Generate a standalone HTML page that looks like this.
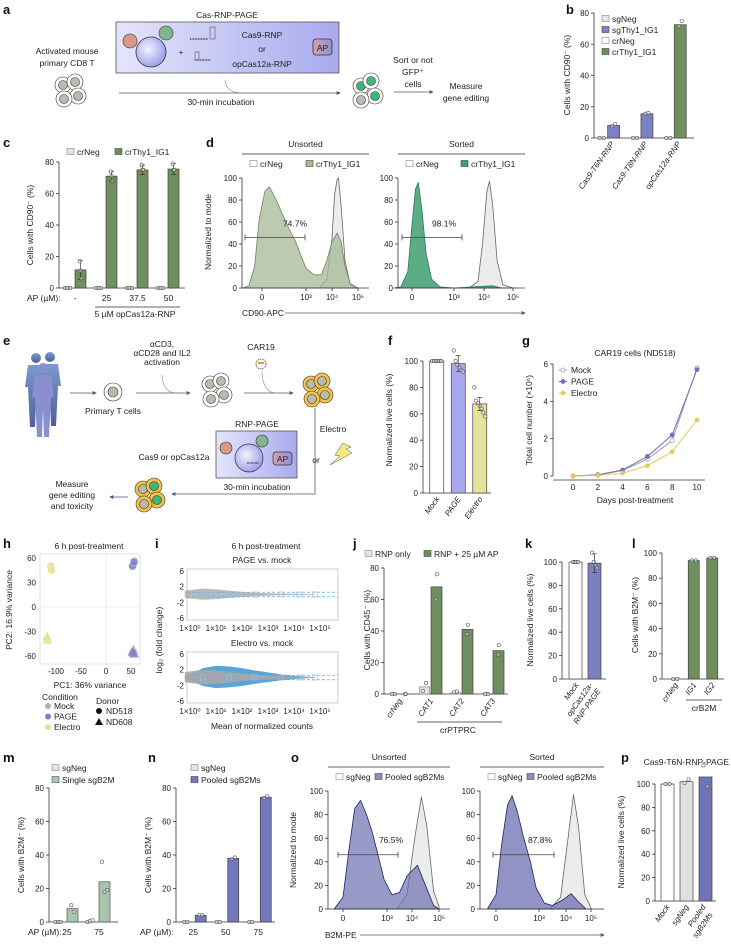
<!DOCTYPE html>
<html><head><meta charset="utf-8">
<style>
html,body{margin:0;padding:0;background:#fff;}
svg{display:block;font-family:"Liberation Sans",sans-serif;}
.pl{font-size:13px;font-weight:bold;fill:#111;}
.t{font-size:8.5px;fill:#222;}
.tk{font-size:8px;fill:#222;}
</style></head>
<body>
<svg id="fig" width="731" height="945" viewBox="0 0 731 945" xmlns="http://www.w3.org/2000/svg">
<defs>
<marker id="arr" viewBox="0 0 6 6" refX="5" refY="3" markerWidth="5" markerHeight="5" orient="auto"><path d="M0,0 L6,3 L0,6 z" fill="#4a5a78"/></marker>
<linearGradient id="boxg" x1="0" y1="0" x2="1" y2="0"><stop offset="0" stop-color="#e4e4fb"/><stop offset="1" stop-color="#a9aaee"/></linearGradient>
<radialGradient id="bigc" cx="0.4" cy="0.4" r="0.6"><stop offset="0" stop-color="#f2f2ff"/><stop offset="1" stop-color="#9fa2ea"/></radialGradient>
<linearGradient id="apg" x1="0" y1="0" x2="1" y2="0"><stop offset="0" stop-color="#d9a0a8"/><stop offset="1" stop-color="#8f90d8"/></linearGradient>
<linearGradient id="ppl" x1="0" y1="0" x2="0" y2="1"><stop offset="0" stop-color="#6b8fc9"/><stop offset="1" stop-color="#3d4f8f"/></linearGradient>
</defs>

<text class="pl" x="3" y="14">a</text>
<text class="pl" x="566" y="14">b</text>
<text class="pl" x="3" y="147">c</text>
<text class="pl" x="206" y="147">d</text>
<text class="pl" x="3" y="345">e</text>
<text class="pl" x="388" y="345">f</text>
<text class="pl" x="522" y="345">g</text>
<text class="pl" x="3" y="548">h</text>
<text class="pl" x="155" y="548">i</text>
<text class="pl" x="353" y="548">j</text>
<text class="pl" x="525" y="548">k</text>
<text class="pl" x="632" y="548">l</text>
<text class="pl" x="3" y="762">m</text>
<text class="pl" x="148" y="762">n</text>
<text class="pl" x="291" y="762">o</text>
<text class="pl" x="621" y="762">p</text>

<g>
<text class="t" x="227" y="18" text-anchor="middle" font-size="9">Cas-RNP-PAGE</text>
<rect x="116" y="22" width="223" height="51" fill="url(#boxg)" stroke="#555" stroke-width="0.8"/>
<circle cx="151" cy="52" r="15" fill="url(#bigc)" stroke="#333" stroke-width="0.8"/>
<circle cx="130" cy="41" r="7" fill="#d99a86" stroke="#333" stroke-width="0.6"/>
<circle cx="166" cy="33" r="7" fill="#7fb593" stroke="#333" stroke-width="0.6"/>
<text class="t" x="181" y="55" text-anchor="middle">+</text>
<path d="M190,39 h18 M195,60 h16" stroke="#333" stroke-width="1.2" stroke-dasharray="1 0.6"/>
<rect x="210" y="27" width="5" height="12" fill="none" stroke="#555" stroke-width="0.6"/>
<rect x="195" y="52" width="4" height="8" fill="none" stroke="#555" stroke-width="0.6"/>
<text class="t" x="262" y="38" text-anchor="middle" font-size="9">Cas9-RNP</text>
<text class="t" x="262" y="52" text-anchor="middle" font-size="9">or</text>
<text class="t" x="262" y="67" text-anchor="middle" font-size="9">opCas12a-RNP</text>
<rect x="313" y="39" width="19" height="16" rx="3" fill="url(#apg)" stroke="#333" stroke-width="0.8"/>
<text class="t" x="322.5" y="51" text-anchor="middle" font-size="9">AP</text>
<text class="t" x="67" y="54" text-anchor="middle" font-size="9">Activated mouse</text>
<text class="t" x="67" y="66" text-anchor="middle" font-size="9">primary CD8 T</text>
<g stroke="#333" stroke-width="0.6">
<circle cx="63" cy="85" r="8" fill="#fff"/><circle cx="63" cy="85" r="4.5" fill="#b7bcae"/>
<circle cx="75" cy="82" r="8" fill="#fff"/><circle cx="75" cy="82" r="4.5" fill="#b7bcae"/>
<circle cx="78" cy="96" r="8" fill="#fff"/><circle cx="78" cy="96" r="4.5" fill="#b7bcae"/>
<circle cx="64" cy="99" r="8" fill="#fff"/><circle cx="64" cy="99" r="4.5" fill="#b7bcae"/>
<circle cx="361" cy="86" r="8" fill="#fff"/><circle cx="361" cy="86" r="4.5" fill="#3cb878"/>
<circle cx="371" cy="81" r="8" fill="#fff"/><circle cx="371" cy="81" r="4.5" fill="#3cb878"/>
<circle cx="375" cy="96" r="8" fill="#fff"/><circle cx="375" cy="96" r="4.5" fill="#3cb878"/>
<circle cx="361" cy="100" r="8" fill="#fff"/><circle cx="361" cy="100" r="4.5" fill="#b7bcae"/>
</g>
<path d="M225,80 Q226,92 240,93" fill="none" stroke="#889" stroke-width="0.6"/>
<line x1="119" y1="93" x2="340" y2="93" stroke="#4a5a78" stroke-width="0.8" marker-end="url(#arr)"/>
<text class="t" x="221" y="105" text-anchor="middle" font-size="9">30-min incubation</text>
<line x1="394" y1="92" x2="433" y2="92" stroke="#4a5a78" stroke-width="0.8" marker-end="url(#arr)"/>
<text class="t" x="413" y="63" text-anchor="middle" font-size="9">Sort or not</text>
<text class="t" x="413" y="75" text-anchor="middle" font-size="9">GFP⁺</text>
<text class="t" x="413" y="87" text-anchor="middle" font-size="9">cells</text>
<text class="t" x="466" y="89" text-anchor="middle" font-size="9">Measure</text>
<text class="t" x="466" y="101" text-anchor="middle" font-size="9">gene editing</text>
</g>

<g>
<g fill="url(#ppl)" opacity="0.9">
<circle cx="36" cy="358" r="5"/><path d="M28,365 h16 l3,22 h-3 l-2,40 h-5 l-1,-30 l-1,30 h-5 l-2,-40 h-3 z"/>
<circle cx="50" cy="357" r="5"/><path d="M42,364 h16 l3,22 h-3 l-2,40 h-5 l-1,-30 l-1,30 h-5 l-2,-40 h-3 z"/>
</g>
<g fill="#8a8fd0"><circle cx="43" cy="368" r="5"/><path d="M35,375 h16 l3,22 h-3 l-2,40 h-5 l-1,-30 l-1,30 h-5 l-2,-40 h-3 z"/></g>
<line x1="70" y1="393" x2="96" y2="393" stroke="#4a5a78" stroke-width="0.8" marker-end="url(#arr)"/>
<g stroke="#333" stroke-width="0.6">
<circle cx="113" cy="392" r="9" fill="#fff"/><circle cx="113" cy="392" r="5" fill="#b7bcae"/>
</g>
<text class="t" x="113" y="414" text-anchor="middle" font-size="9">Primary T cells</text>
<text class="t" x="162" y="347" text-anchor="middle" font-size="9">αCD3,</text>
<text class="t" x="162" y="356" text-anchor="middle" font-size="9">αCD28 and IL2</text>
<text class="t" x="162" y="365" text-anchor="middle" font-size="9">activation</text>
<path d="M162,375 Q163,392 175,393" fill="none" stroke="#889" stroke-width="0.6"/>
<line x1="136" y1="393" x2="190" y2="393" stroke="#4a5a78" stroke-width="0.8" marker-end="url(#arr)"/>
<g stroke="#333" stroke-width="0.6">
<circle cx="210" cy="384" r="8" fill="#fff"/><circle cx="210" cy="384" r="4.5" fill="#b7bcae"/>
<circle cx="221" cy="381" r="8" fill="#fff"/><circle cx="221" cy="381" r="4.5" fill="#b7bcae"/>
<circle cx="224" cy="395" r="8" fill="#fff"/><circle cx="224" cy="395" r="4.5" fill="#b7bcae"/>
<circle cx="211" cy="399" r="8" fill="#fff"/><circle cx="211" cy="399" r="4.5" fill="#b7bcae"/>
</g>
<text class="t" x="261" y="350" text-anchor="middle" font-size="9">CAR19</text>
<circle cx="261" cy="364" r="5" fill="#fff" stroke="#333" stroke-width="0.8" stroke-dasharray="1.2 0.8"/>
<rect x="258" y="362" width="6" height="2" fill="#e0a030"/>
<path d="M262,372 Q263,392 275,393" fill="none" stroke="#889" stroke-width="0.6"/>
<line x1="244" y1="393" x2="293" y2="393" stroke="#4a5a78" stroke-width="0.8" marker-end="url(#arr)"/>
<g stroke="#333" stroke-width="0.6">
<circle cx="311" cy="384" r="8" fill="#f3c14a"/><circle cx="311" cy="384" r="4.5" fill="#b7bcae"/>
<circle cx="322" cy="381" r="8" fill="#f3c14a"/><circle cx="322" cy="381" r="4.5" fill="#b7bcae"/>
<circle cx="325" cy="395" r="8" fill="#f3c14a"/><circle cx="325" cy="395" r="4.5" fill="#b7bcae"/>
<circle cx="312" cy="399" r="8" fill="#f3c14a"/><circle cx="312" cy="399" r="4.5" fill="#b7bcae"/>
</g>
<text class="t" x="257" y="427" text-anchor="middle" font-size="9">RNP-PAGE</text>
<rect x="216" y="431" width="81" height="47" fill="url(#boxg)" stroke="#555" stroke-width="0.8"/>
<circle cx="249" cy="458" r="14" fill="url(#bigc)" stroke="#333" stroke-width="0.7"/>
<circle cx="226" cy="448" r="6" fill="#d99a86" stroke="#333" stroke-width="0.6"/>
<circle cx="262" cy="441" r="6" fill="#7fb593" stroke="#333" stroke-width="0.6"/>
<path d="M247,463 h12" stroke="#333" stroke-width="1.2" stroke-dasharray="0.8 0.5"/>
<rect x="273" y="452" width="19" height="13" rx="3" fill="url(#apg)" stroke="#333" stroke-width="0.7"/>
<text class="t" x="282.5" y="462" text-anchor="middle" font-size="8.5">AP</text>
<text class="t" x="174" y="460" text-anchor="middle" font-size="9">Cas9 or opCas12a</text>
<text class="t" x="257" y="490" text-anchor="middle" font-size="9">30-min incubation</text>
<text class="t" x="333" y="432" text-anchor="middle" font-size="9">Electro</text>
<text class="t" x="316" y="463" text-anchor="middle" font-size="9">or</text>
<path d="M343,443 l8,4 l-5,2 l6,4 l-22,12 l10,-9 l-5,-1 z" fill="#f4ea80" stroke="#555" stroke-width="0.5"/>
<polyline points="315,408 315,494 172,494" fill="none" stroke="#4a5a78" stroke-width="0.8" marker-end="url(#arr)"/>
<line x1="128" y1="497" x2="110" y2="497" stroke="#4a5a78" stroke-width="0.8" marker-end="url(#arr)"/>
<g stroke="#333" stroke-width="0.6">
<circle cx="143" cy="489" r="8" fill="#f3c14a"/><circle cx="143" cy="489" r="4.5" fill="#b7bcae"/>
<circle cx="154" cy="486" r="8" fill="#f3c14a"/><circle cx="154" cy="486" r="4.5" fill="#3cb878"/>
<circle cx="157" cy="500" r="8" fill="#f3c14a"/><circle cx="157" cy="500" r="4.5" fill="#3cb878"/>
<circle cx="144" cy="504" r="8" fill="#f3c14a"/><circle cx="144" cy="504" r="4.5" fill="#b7bcae"/>
</g>
<text class="t" x="72" y="487" text-anchor="middle" font-size="9">Measure</text>
<text class="t" x="72" y="498" text-anchor="middle" font-size="9">gene editing</text>
<text class="t" x="72" y="509" text-anchor="middle" font-size="9">and toxicity</text>
</g>
</svg>

<script>
const bCategories=['Cas9-T6N-RNP','Cas9-T8N-RNP','opCas12a-RNP'];
const bNegValues=[0,0,0];
const bThyValues=[8,15.5,72.5];
const bThyPoints=[[7.5,9],[15.5,16],[71.5,75]];
const bTicks=[0,20,40,60,80];

const cCategories=['-','25','37.5','50'];
const cNegValues=[0,0,0,0];
const cThyValues=[11.5,71,75,75.5];
const cThyErr=[6,3,3,3.5];
const cThyPoints=[[17,11,6],[74,71,68],[78,75,75],[79,75,75]];
const cTicks=[0,20,40,60,80];

const dTickVals=[0,3,4,5];
const dTickLabels=['0','10³','10⁴','10⁵'];
const dUnsNegX=[3.5,3.8,4.0,4.1,4.2,4.25,4.35,4.5,4.7,5.0];
const dUnsNegY=[0,8,45,85,99,100,75,25,3,0];
const dUnsThyX=[-1.3,-0.9,-0.5,-0.2,0.2,0.5,0.9,1.3,1.8,2.3,2.7,3.0,3.3,3.6,3.8,4.0,4.2,4.35,4.5,4.7,5.0];
const dUnsThyY=[0,2,20,62,88,92,82,70,55,42,28,18,12,12,25,42,50,42,20,4,0];
const dSorNegX=[3.5,3.8,3.95,4.1,4.19,4.3,4.45,4.65,5.0];
const dSorNegY=[0,6,40,88,97,75,25,3,0];
const dSorThyX=[-1.3,-0.8,-0.3,0,0.25,0.45,0.7,1.0,1.4,2.0,3.0,4.3,4.6];
const dSorThyY=[0,1,15,58,90,96,72,32,8,1,0,2,0];
const hTicks=[0,20,40,60,80,100];

const fCategories=['Mock','PAGE','Electro'];
const fValues=[100,98,67.5];
const fErr=[0,6,5];
const fPoints=[[100,100,100,100,100,100],[108,100,97,95,93,92],[80,70,68,66,64,61,58]];
const fTicks=[0,20,40,60,80,100];

const gDays=[0,2,4,6,8,10];
const gMock=[0,0.05,0.3,0.9,1.9,5.8];
const gPage=[0,0.07,0.32,1.05,2.2,5.7];
const gElectro=[0,0.03,0.15,0.55,1.3,3.0];
const gTicksY=[0,2,4,6];

const hPcaX=[57,55,53,56,-110,-109,55,53,56,-117,-118];
const hPcaY=[56,52,50,55,50,45,-52,-55,-57,-40,-36];
const hPcaCond=['Mock','Mock','PAGE','PAGE','Electro','Electro','Mock','PAGE','PAGE','Electro','Electro'];
const hPcaDonor=['ND518','ND518','ND518','ND518','ND518','ND518','ND608','ND608','ND608','ND608','ND608'];
const hTicksX=[-100,-50,0,50];
const hTicksY=[-60,-30,0,30,60];

const iLogX=[-0.2,0.5,1,1.5,2,2.5,3,3.5,4,4.5,4.8];
const iPageSpread=[1.0,1.5,1.3,1.0,0.7,0.45,0.3,0.22,0.18,0.12,0.08];
const iElectroGrey=[1.4,2.0,1.8,1.4,1.0,0.75,0.5,0.35,0.25,0.18,0.08];
const iElectroBlue=[0.2,2.4,3.0,2.8,2.4,1.8,1.3,0.8,0.45,0.22,0.08];
const iBinX=[0.5,1.5,2.5,3.5,4.2,4.8];
const iTicksY=[-6,-2,2,6];
const iTicksX=[0,1,2,3,4,5];

const jCategories=['crNeg','CAT1','CAT2','CAT3'];
const jRnpValues=[0,4.5,0.8,0.3];
const jApValues=[0,68,41,27.5];
const jRnpPoints=[[0,0],[2,7],[1,1.5],[0,0]];
const jApPoints=[[0,0],[60,76],[38,44],[25,31]];
const jTicks=[0,20,40,60,80];

const kCategories=['Mock','opCas12a-RNP-PAGE'];
const kValues=[100,99];
const kErr=[0,8];
const kPoints=[[100,100,100,100],[108,100,97,95]];
const kTicks=[0,20,40,60,80,100];

const lCategories=['crNeg','IG1','IG2'];
const lValues=[0,94,96];
const lPoints=[[0,0],[94,94],[96,96]];
const lTicks=[0,20,40,60,80,100];

const mCategories=['25','75'];
const mNegValues=[0,0];
const mB2MValues=[8,24];
const mNegPoints=[[0,0,0],[0,0.5,1]];
const mB2MPoints=[[10,6],[36,18,19]];
const mTicks=[0,20,40,60,80];

const nCategories=['25','50','75'];
const nNegValues=[0,0,0];
const nB2MValues=[4,38,74.5];
const nB2MPoints=[[4,4],[37.5,38.5],[74,75]];
const nTicks=[0,20,40,60,80];

const oUnsNegX=[3.4,3.8,4.1,4.35,4.55,4.8,5.0];
const oUnsNegY=[0,12,60,95,70,15,2];
const oUnsPoolX=[-0.6,0,0.4,0.8,1.2,1.6,2.0,2.4,2.8,3.2,3.5,3.8,4.2,4.5,4.8,5.0];
const oUnsPoolY=[0,10,50,85,92,80,65,45,25,12,14,28,37,20,3,0];
const oSorNegX=[3.4,3.8,4.05,4.3,4.5,4.75,5.0];
const oSorNegY=[0,10,55,97,70,12,1];
const oSorPoolX=[-0.6,0,0.4,0.8,1.12,1.5,1.9,2.4,2.8,3.2,3.5,3.9,4.2,4.5,4.8];
const oSorPoolY=[0,12,55,88,96,82,62,40,18,5,3,8,13,6,0];

const pCategories=['Mock','sgNeg','Pooled sgB2Ms'];
const pValues=[100,102,106];
const pPoints=[[100,100],[101,104],[116,98]];
const pTicks=[0,20,40,60,80,100];

const NS='http://www.w3.org/2000/svg';
const svg=document.getElementById('fig');
function mk(tag,attrs){const e=document.createElementNS(NS,tag);for(const k in attrs)e.setAttribute(k,attrs[k]);svg.appendChild(e);return e;}
function lin(v0,v1,p0,p1){return v=>p0+(v-v0)*(p1-p0)/(v1-v0);}
function pw(vals,px){return v=>{let i=0;if(v<=vals[0])i=0;else if(v>=vals[vals.length-1])i=vals.length-2;else{while(v>vals[i+1])i++;}return px[i]+(v-vals[i])*(px[i+1]-px[i])/(vals[i+1]-vals[i]);};}
function text(x,y,s,cls,anchor,name,extra){const t=mk('text',Object.assign({x:x,y:y,'class':cls,'text-anchor':anchor||'start'},extra||{}));t.textContent=s;


return t;}
function yAxis(x,ys,ticks,name){const l=mk('line',{x1:x,x2:x,y1:ys(ticks[0]),y2:ys(ticks[ticks.length-1]),stroke:'#333','stroke-width':0.8});


ticks.forEach(v=>{const tk=mk('line',{x1:x-3,x2:x,y1:ys(v),y2:ys(v),stroke:'#333','stroke-width':0.8});


text(x-5,ys(v)+3,String(v),'tk','end',name+'-tick-label');});}
function yTitle(x,y,s,name){const t=text(x,y,s,'t','middle',name,{transform:'rotate(-90 '+x+' '+y+')'});return t;}
function bar(cx,w,v,ys,fill,stroke,name){const r=mk('rect',{x:cx-w/2,y:ys(v),width:w,height:Math.max(0,ys(0)-ys(v)),fill:fill,stroke:stroke,'stroke-width':0.7});

}
function dot(cx,v,ys,name){const c=mk('circle',{cx:cx,cy:ys(v),r:1.7,fill:'#fff','fill-opacity':0.4,stroke:'#555','stroke-width':0.6});

}
function dots(cx,arr,ys,name,sp){const n=arr.length;arr.forEach((v,i)=>dot(cx+(i-(n-1)/2)*(sp||2.6),v,ys,name));}
function err(cx,v,e,ys,name){if(!e)return;const l=mk('path',{d:'M'+cx+','+ys(v-e)+'V'+ys(v+e)+'M'+(cx-2.5)+','+ys(v+e)+'h5M'+(cx-2.5)+','+ys(v-e)+'h5',stroke:'#333','stroke-width':0.7,fill:'none'});

}
function rotLabel(x,y,s,name){text(x,y,s,'tk','end',name,{transform:'rotate(-55 '+x+' '+y+')','font-style':'italic'});}
function legBox(x,y,fill,stroke,label,name){const r=mk('rect',{x:x,y:y-6.5,width:7,height:6,fill:fill,stroke:stroke,'stroke-width':0.6});


text(x+10,y,label,'t','start',name);}
function hline(x1,x2,y,name){const l=mk('line',{x1:x1,x2:x2,y1:y,y2:y,stroke:'#333','stroke-width':0.8});

}
function area(xs,ys,X,Y,fill,stroke,op,name){let d='M'+X(xs[0])+','+Y(0);xs.forEach((v,i)=>{d+='L'+X(v).toFixed(1)+','+Y(ys[i]).toFixed(1);});d+='L'+X(xs[xs.length-1])+','+Y(0)+'Z';
const p=mk('path',{d:d,fill:fill,'fill-opacity':op,stroke:stroke,'stroke-width':0.8,'stroke-linejoin':'round'});

}

const GREEN='#6f8f5f',NEGF='#e4e4e4',NEGS='#888',PUR='#7c81c3';

(function(){const ys=lin(0,80,138,13);yAxis(594,ys,bTicks,'b-y-axis');yTitle(570,75,'Cells with CD90⁻ (%)','b-y-axis-title');
hline(594,694,138,'b-x-axis');
bCategories.forEach((c,i)=>{const cx=594+(i+0.5)*33.3;bar(cx-9,10,bNegValues[i],ys,NEGF,NEGS,'b-bar-neg');dots(cx-9,[0,0],ys,'b-point-neg',4);
bar(cx+3,12,bThyValues[i],ys,i<2?PUR:GREEN,'#444','b-bar-thy1');dots(cx+3,bThyPoints[i],ys,'b-point-thy1',3);rotLabel(cx+4,144,c,'b-x-label');});
legBox(602,22,NEGF,NEGS,'sgNeg','b-legend-sgneg');legBox(602,33,PUR,'#444','sgThy1_IG1','b-legend-sgthy1');
legBox(602,44,'#fff',NEGS,'crNeg','b-legend-crneg');legBox(602,55,GREEN,'#444','crThy1_IG1','b-legend-crthy1');})();

(function(){const ys=lin(0,80,288,162);yAxis(59,ys,cTicks,'c-y-axis');yTitle(33,225,'Cells with CD90⁻ (%)','c-y-axis-title');
hline(59,185,288,'c-x-axis');
text(27,301,'AP (µM):','t','start','c-ap-label');
cCategories.forEach((c,i)=>{const cx=60+(i+0.5)*31;bar(cx-8,9,cNegValues[i],ys,NEGF,NEGS,'c-bar-crneg');dots(cx-8,[0,0,0],ys,'c-point-crneg',2.5);
bar(cx+5,11,cThyValues[i],ys,GREEN,'#444','c-bar-crthy1');err(cx+5,cThyValues[i],cThyErr[i],ys,'c-error-bar');dots(cx+5,cThyPoints[i],ys,'c-point-crthy1',0.8);
text(cx+(i==0?-0.5:0),301,c,'t','middle','c-x-label');});
hline(95,180,307,'c-bracket');text(135,317,'5 µM opCas12a-RNP','t','middle','c-bracket-label');
legBox(67,155,NEGF,NEGS,'crNeg','c-legend-crneg');legBox(115,155,GREEN,'#444','crThy1_IG1','c-legend-crthy1');})();

function histPanel(pfx,x0,x1,tickPx,y0,y100,negX,negY,posX,posY,negCol,posFill,posStroke,posOp,gate,gateTxt,head,leg){
const X=pw(dTickVals,tickPx);const Y=lin(0,100,y0,y100);
area(negX,negY,X,Y,'#ececec','#666',1,pfx+'-hist-neg');
area(posX,posY,X,Y,posFill,posStroke,posOp,pfx+'-hist-pos');
yAxis(x0,Y,hTicks,pfx+'-y-axis');hline(x0,x1,y0,pfx+'-x-axis');
dTickVals.forEach((v,i)=>{const tk=mk('line',{x1:X(v),x2:X(v),y1:y0,y2:y0+3,stroke:'#333','stroke-width':0.8});


text(X(v),y0+12,dTickLabels[i],'tk','middle',pfx+'-x-tick-label');});
const gy=Y(46);const g=mk('path',{d:'M'+gate[0]+','+(gy-3)+'v6M'+gate[0]+','+gy+'H'+gate[1]+'M'+gate[1]+','+(gy-3)+'v6',stroke:'#444','stroke-width':0.8,fill:'none'});


text(gate[2],Y(56),gateTxt,'t','middle',pfx+'-gate-label');
text((x0+x1)/2,y100-31,head,'t','middle',pfx+'-header',{'font-size':'9.5'});hline(x0,x1,y100-24,pfx+'-header-line');
legBox(x0+8,y100-11,'#fff',NEGS,leg[0],pfx+'-legend-neg');legBox(leg[2],y100-11,leg[3],'#444',leg[1],pfx+'-legend-pos');}
histPanel('d-unsorted',242,369,[262,306,332,358],288,178,dUnsNegX,dUnsNegY,dUnsThyX,dUnsThyY,'#eee','#a6ba94','#6d8560',0.75,[245,305,295],'74.7%','Unsorted',['crNeg','crThy1_IG1',306,'#a6ba94']);
histPanel('d-sorted',398,525,[412,454,484,513],288,178,dSorNegX,dSorNegY,dSorThyX,dSorThyY,'#eee','#3f9f72','#2f7a55',0.85,[402,462,444],'98.1%','Sorted',['crNeg','crThy1_IG1',461,'#3f9f72']);
yTitle(211,232,'Normalized to mode','d-y-axis-title');
text(242,316,'CD90-APC','t','start','d-x-axis-title');
(function(){const a=mk('line',{x1:285,x2:525,y1:313,y2:313,stroke:'#4a5a78','stroke-width':0.8,'marker-end':'url(#arr)'});

})();

histPanel('o-unsorted',328,450,[343,387,412,439],909,791,oUnsNegX,oUnsNegY,oUnsPoolX,oUnsPoolY,'#eee','#6c6fb0','#1f2160',0.7,[338,398,391],'76.5%','Unsorted',['sgNeg','Pooled sgB2Ms',375,'#8d90c8']);
histPanel('o-sorted',480,604,[496,539,566,591],909,791,oSorNegX,oSorNegY,oSorPoolX,oSorPoolY,'#eee','#6c6fb0','#1f2160',0.75,[493,554,540],'87.8%','Sorted',['sgNeg','Pooled sgB2Ms',527,'#8d90c8']);
yTitle(296,850,'Normalized to mode','o-y-axis-title');
text(325,938,'B2M-PE','t','start','o-x-axis-title');
(function(){const a=mk('line',{x1:360,x2:604,y1:935,y2:935,stroke:'#4a5a78','stroke-width':0.8,'marker-end':'url(#arr)'});

})();

(function(){const ys=lin(0,100,493,361);yAxis(423,ys,fTicks,'f-y-axis');yTitle(392,420,'Normalized live cells (%)','f-y-axis-title');
hline(423,491,493,'f-x-axis');const cols=['#fff','#a8a8ef','#e7e29a'];
fCategories.forEach((c,i)=>{const cx=426+(i+0.5)*21.5;bar(cx,14,fValues[i],ys,cols[i],'#444','f-bar-'+c.toLowerCase());err(cx,fValues[i],fErr[i],ys,'f-error-bar');dots(cx,fPoints[i],ys,'f-point',1.8);rotLabel(cx+3,499,c,'f-x-label');});})();

(function(){const X=lin(0,10,573,697),Y=lin(0,6,476,364);yAxis(553,Y,gTicksY,'g-y-axis');hline(553,705,480,'g-x-axis');
gDays.forEach(d=>text(X(d),490,String(d),'tk','middle','g-x-tick-label'));
text(635,503,'Days post-treatment','t','middle','g-x-axis-title');text(635,356,'CAR19 cells (ND518)','t','middle','g-title');
yTitle(532,420,'Total cell number (×10⁶)','g-y-axis-title');
const series=[[gMock,'#a0a0a0','#fff','mock'],[gPage,'#6f72c0','#6f72c0','page'],[gElectro,'#e3cc5e','#e3cc5e','electro']];
series.forEach(s=>{const pl=mk('polyline',{points:gDays.map((d,i)=>X(d)+','+Y(s[0][i])).join(' '),fill:'none',stroke:s[1],'stroke-width':1});


gDays.forEach((d,i)=>{const c=mk('circle',{cx:X(d),cy:Y(s[0][i]),r:2,fill:s[2],stroke:s[1],'stroke-width':0.8});

});});
['Mock','PAGE','Electro'].forEach((n,i)=>{const y=373+i*11.5;const l=mk('line',{x1:559,x2:567,y1:y-3,y2:y-3,stroke:series[i][1],'stroke-width':1});


const c=mk('circle',{cx:563,cy:y-3,r:2,fill:series[i][2],stroke:series[i][1],'stroke-width':0.8});


text(571,y,n,'t','start','g-legend-'+n.toLowerCase(),{'font-size':'9.5'});});})();

(function(){const X=lin(0,50,106,131),Y=lin(0,60,607,558);
const bx=mk('rect',{x:40,y:554,width:100,height:110,fill:'none',stroke:'#ccc','stroke-width':0.6});


const g1=mk('path',{d:'M40,'+Y(0)+'H140M'+X(0)+',554V664',stroke:'#e2e2e2','stroke-width':0.6});


hTicksY.forEach(v=>text(36,Y(v)+3,String(v),'tk','end','h-y-tick-label'));
hTicksX.forEach(v=>text(X(v),674,String(v),'tk','middle','h-x-tick-label'));
const col={Mock:'#b0b0b0',PAGE:'#7c7fcc',Electro:'#e6df94'};
hPcaX.forEach((x,i)=>{let e;if(hPcaDonor[i]==='ND518'){e=mk('circle',{cx:X(x),cy:Y(hPcaY[i]),r:4,fill:col[hPcaCond[i]],'fill-opacity':0.85,stroke:'#fff','stroke-width':0.4});}
else{const cx=X(x),cy=Y(hPcaY[i]);e=mk('path',{d:'M'+cx+','+(cy-5)+'L'+(cx+5)+','+(cy+4)+'L'+(cx-5)+','+(cy+4)+'Z',fill:col[hPcaCond[i]],'fill-opacity':0.85});}

});
text(89,549,'6 h post-treatment','t','middle','h-title',{'font-size':'9.5'});
text(90,688,'PC1: 36% variance','t','middle','h-x-axis-title');yTitle(12,610,'PC2: 16.9% variance','h-y-axis-title');
text(42,700,'Condition','t','start','h-legend-condition-title');
['Mock','PAGE','Electro'].forEach((n,i)=>{const c=mk('circle',{cx:48,cy:706+i*10.5,r:3,fill:col[n]});


text(54,709+i*10.5,n,'t','start','h-legend-'+n.toLowerCase());});
text(96,704,'Donor','t','start','h-legend-donor-title');
const d1=mk('circle',{cx:99,cy:711,r:3,fill:'#111'});


const d2=mk('path',{d:'M99,718L103,725L95,725Z',fill:'#111'});


text(106,714,'ND518','t','start','h-legend-nd518');text(106,725,'ND608','t','start','h-legend-nd608');})();

function maPlot(pfx,top,bot,layers){const X=lin(0,1,190,216),Y=lin(-6,6,bot-2,top+2),yc=Y(0);
const fr=mk('rect',{x:187,y:top,width:151,height:bot-top,fill:'none',stroke:'#aaa','stroke-width':0.6});


layers.forEach(L=>{let d='M'+X(iLogX[0])+','+Y(0);iLogX.forEach((v,i)=>d+='L'+X(v).toFixed(1)+','+Y(L[0][i]).toFixed(1));for(let i=iLogX.length-1;i>=0;i--)d+='L'+X(iLogX[i]).toFixed(1)+','+Y(-L[0][i]*0.9).toFixed(1);d+='Z';
const p=mk('path',{d:d,fill:L[1],'fill-opacity':L[3]});

});
const dl=mk('path',{d:'M187,'+Y(0.58)+'H338M187,'+Y(-0.58)+'H338',stroke:'#6aaee0','stroke-width':0.7,'stroke-dasharray':'3 2'});


iBinX.forEach(v=>{const s=mk('rect',{x:X(v)-2.5,y:yc-2.5,width:5,height:5,fill:'none',stroke:'#8cc2e8','stroke-width':0.7});

});
iTicksY.forEach(v=>text(184,Y(v)+3,String(v),'tk','end',pfx+'-y-tick-label'));
iTicksX.forEach(v=>text(X(v),bot+11,'1×10'+'⁰¹²³⁴⁵'[v],'tk','middle',pfx+'-x-tick-label',{'font-size':'7.5'}));}
maPlot('i-page',569,620,[[iPageSpread,'#a8a8a8','cloud-grey',0.8]]);
maPlot('i-electro',652,703,[[iElectroBlue,'#2e8fcf','cloud-blue',0.8],[iElectroGrey,'#a8a8a8','cloud-grey',0.9]]);
text(266,549,'6 h post-treatment','t','middle','i-title',{'font-size':'9.5'});
text(262,563,'PAGE vs. mock','t','middle','i-subtitle-page',{'font-size':'9.5'});
text(262,646,'Electro vs. mock','t','middle','i-subtitle-electro',{'font-size':'9.5'});
text(262,729,'Mean of normalized counts','t','middle','i-x-axis-title',{'font-size':'9.5'});
yTitle(162,640,'log₂ (fold change)','i-y-axis-title');

(function(){const ys=lin(0,80,694,568);yAxis(384,ys,jTicks,'j-y-axis');yTitle(370,630,'Cells with CD45⁻ (%)','j-y-axis-title');
hline(384,508,694,'j-x-axis');
jCategories.forEach((c,i)=>{const cx=384+(i+0.5)*31;bar(cx-6,10,jRnpValues[i],ys,NEGF,NEGS,'j-bar-rnp-only');dots(cx-6,jRnpPoints[i],ys,'j-point-rnp-only',3);
bar(cx+6,11,jApValues[i],ys,GREEN,'#444','j-bar-rnp-ap');dots(cx+6,jApPoints[i],ys,'j-point-rnp-ap',0.5);rotLabel(cx+3,701,c,'j-x-label');});
hline(417,502,722,'j-bracket');text(458,733,'crPTPRC','t','middle','j-bracket-label');
legBox(365,557,NEGF,NEGS,'RNP only','j-legend-rnp-only');legBox(424,557,GREEN,'#444','RNP + 25 µM AP','j-legend-rnp-ap');})();

(function(){const ys=lin(0,100,679,562);yAxis(562,ys,kTicks,'k-y-axis');yTitle(533,620,'Normalized live cells (%)','k-y-axis-title');
hline(562,606,679,'k-x-axis');const cols=['#fff','#7b80bf'];
kCategories.forEach((c,i)=>{const cx=566+(i+0.5)*19;bar(cx,13,kValues[i],ys,cols[i],'#444','k-bar');err(cx,kValues[i],kErr[i],ys,'k-error-bar');dots(cx,kPoints[i],ys,'k-point',1.6);});
rotLabel(579,685,'Mock','k-x-label');rotLabel(593,685,'opCas12a-','k-x-label');rotLabel(601,691,'RNP-PAGE','k-x-label');})();

(function(){const ys=lin(0,100,679,553);yAxis(662,ys,lTicks,'l-y-axis');yTitle(638,615,'Cells with B2M⁻ (%)','l-y-axis-title');
hline(662,724,679,'l-x-axis');
lCategories.forEach((c,i)=>{const cx=666+(i+0.5)*18.5;if(i>0)bar(cx,11,lValues[i],ys,GREEN,'#444','l-bar-'+c.toLowerCase());dots(cx,lPoints[i],ys,'l-point',4);rotLabel(cx+3,685,c,'l-x-label');});
hline(686,722,700,'l-bracket');text(704,711,'crB2M','t','middle','l-bracket-label');})();

(function(){const ys=lin(0,80,922,788);yAxis(49,ys,mTicks,'m-y-axis');yTitle(24,855,'Cells with B2M⁻ (%)','m-y-axis-title');
hline(49,118,922,'m-x-axis');text(28,935,'AP (µM):','t','start','m-ap-label');
mCategories.forEach((c,i)=>{const cx=49+(i+0.5)*32;bar(cx-7,9,mNegValues[i],ys,NEGF,NEGS,'m-bar-sgneg');dots(cx-7,mNegPoints[i],ys,'m-point-sgneg',2.6);
bar(cx+7.5,11,mB2MValues[i],ys,'#a8c6ad','#555','m-bar-single-sgb2m');dots(cx+7.5,mB2MPoints[i],ys,'m-point-single-sgb2m',2.5);text(cx+2,935,c,'t','middle','m-x-label');});
legBox(52,771,NEGF,NEGS,'sgNeg','m-legend-sgneg');legBox(52,783,'#a8c6ad','#555','Single sgB2M','m-legend-single-sgb2m');})();

(function(){const ys=lin(0,80,922,788);yAxis(176,ys,nTicks,'n-y-axis');yTitle(151,855,'Cells with B2M⁻ (%)','n-y-axis-title');
hline(176,275,922,'n-x-axis');text(140,935,'AP (µM):','t','start','n-ap-label');
nCategories.forEach((c,i)=>{const cx=177+(i+0.5)*32.5;bar(cx-7.5,9,nNegValues[i],ys,NEGF,NEGS,'n-bar-sgneg');dots(cx-7.5,[0,0],ys,'n-point-sgneg',3);
bar(cx+7.5,11,nB2MValues[i],ys,'#7479bd','#444','n-bar-pooled');dots(cx+7.5,nB2MPoints[i],ys,'n-point-pooled',3);text(cx,935,c,'t','middle','n-x-label');});
legBox(191,771,NEGF,NEGS,'sgNeg','n-legend-sgneg');legBox(191,783,'#7479bd','#444','Pooled sgB2Ms','n-legend-pooled');})();

(function(){const ys=lin(0,100,901,784);yAxis(655,ys,pTicks,'p-y-axis');yTitle(624,842,'Normalized live cells (%)','p-y-axis-title');
hline(655,716,901,'p-x-axis');const cols=['#fff','#e0e0e0','#6f74b8'];
pCategories.forEach((c,i)=>{const cx=658+(i+0.5)*19;bar(cx,13,pValues[i],ys,cols[i],'#444','p-bar');dots(cx,pPoints[i],ys,'p-point',4);});
rotLabel(670,907,'Mock','p-x-label');rotLabel(689,907,'sgNeg','p-x-label');rotLabel(706,907,'Pooled','p-x-label');rotLabel(713,915,'sgB2Ms','p-x-label');
text(729,765,'Cas9-T6N-RNP-PAGE','t','end','p-title',{'font-size':'8'});})();
</script>
</body></html>
